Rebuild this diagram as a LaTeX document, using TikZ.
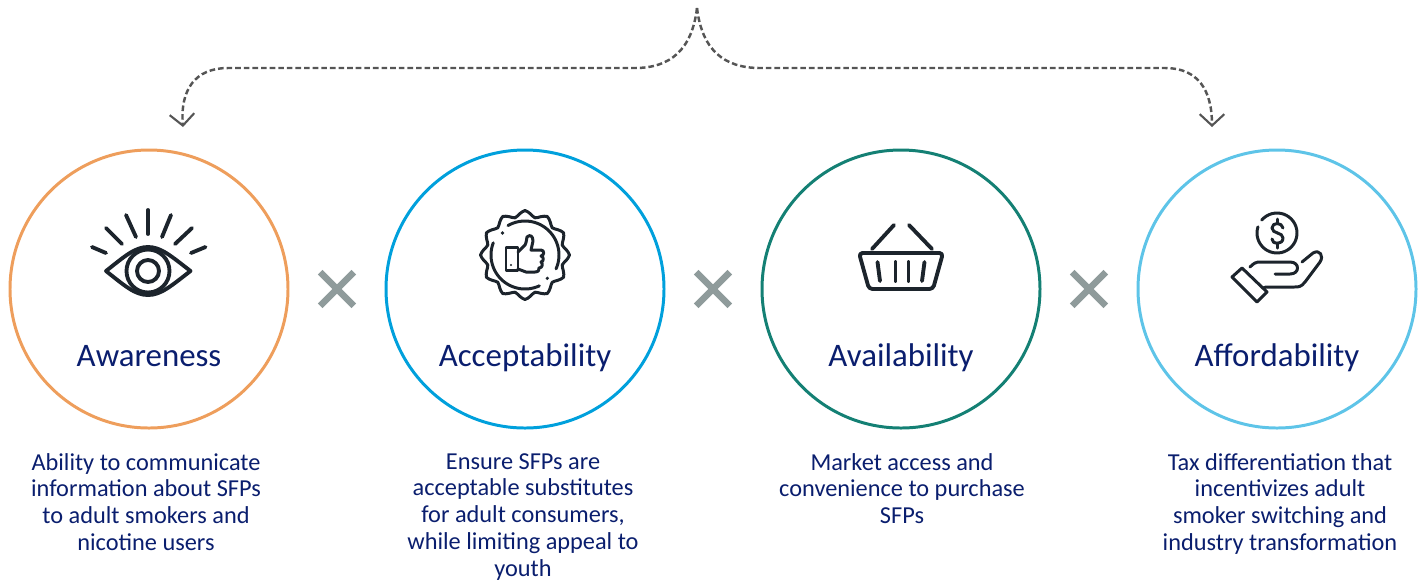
\documentclass[tikz,border=0pt]{standalone}
\usepackage{fontspec}
\setmainfont{Carlito}
\usetikzlibrary{shapes,arrows.meta,positioning}
\definecolor{titlenavy}{RGB}{10,30,110}
\definecolor{iconink}{RGB}{28,36,44}
\definecolor{crossgray}{RGB}{143,155,155}
\definecolor{linkgray}{RGB}{85,85,85}
\definecolor{awareorange}{RGB}{238,158,92}
\definecolor{acceptblue}{RGB}{0,160,220}
\definecolor{availgreen}{RGB}{20,128,116}
\definecolor{affordsky}{RGB}{94,196,232}
\tikzset{
  ring/.style={draw, circle, line width=1.7pt, minimum size=278*0.02cm, inner sep=0pt},
  heading/.style={font=\fontsize{18.7}{22}\selectfont, text=titlenavy, anchor=base},
  blurb/.style={font=\fontsize{13.85}{15.3}\selectfont, text=titlenavy, align=center, anchor=north},
  times/.style={cross out, draw=crossgray, line width=3.8pt, minimum size=27*0.02cm, inner sep=0pt},
  link/.style={draw=linkgray, line width=1.4pt, dash pattern=on 3.2pt off 1.7pt, -{Straight Barb[length=6.5pt, width=14pt, line width=1.2pt]}},
  icon/.style={draw=iconink, line width=2.2pt, line cap=round, line join=round},
  iconthin/.style={draw=iconink, line width=1.7pt, line cap=round, line join=round}
}
\begin{document}
\begin{tikzpicture}[x=0.02cm, y=-0.02cm]
  \useasboundingbox (0,0) rectangle (1427,583);
  % circles and separators
  \node[ring, draw=awareorange] (awareness) at (149,289) {};
  \node[ring, draw=acceptblue] (acceptability) at (525,289) {};
  \node[ring, draw=availgreen] (availability) at (901,289) {};
  \node[ring, draw=affordsky] (affordability) at (1277,289) {};
  \node[times] (timesa) at (337,289) {};
  \node[times] (timesb) at (713,289) {};
  \node[times] (timesc) at (1089,289) {};
  % titles
  \node[heading] (awarenesstitle) at (149,366) {Awareness};
  \node[heading] (acceptabilitytitle) at (525,366) {Acceptability};
  \node[heading] (availabilitytitle) at (901,366) {Availability};
  \node[heading] (affordabilitytitle) at (1277,366) {Affordability};
  % descriptions
  \node[blurb] (awarenesstext) at (146,447) {Ability to communicate\\information about SFPs\\to adult smokers and\\nicotine users};
  \node[blurb] (acceptabilitytext) at (523,447) {Ensure SFPs are\\acceptable substitutes\\for adult consumers,\\while limiting appeal to\\youth};
  \node[blurb] (availabilitytext) at (902,447) {Market access and\\convenience to purchase\\SFPs};
  \node[blurb] (affordabilitytext) at (1280,447) {Tax differentiation that\\incentivizes adult\\smoker switching and\\industry transformation};
  % dashed links
  \coordinate (top) at (697,8);
  \coordinate (leftend) at (183,127);
  \coordinate (rightend) at (1212,127);
  \draw[link] (top) .. controls (692,50) and (670,68) .. (635,68) -- (228,68) .. controls (195,68) and (180,90) .. (leftend);
  \draw[link] (top) .. controls (702,50) and (724,68) .. (760,68) -- (1165,68) .. controls (1198,68) and (1212,90) .. (rightend);
  % eye
  \draw[icon] (106,271) .. controls (125,256) and (135,247) .. (148,247) .. controls (161,247) and (171,256) .. (190.5,271) .. controls (171,286) and (161,295) .. (148,295) .. controls (135,295) and (125,286) .. cycle;
  \draw[icon] (148,271) circle (21.5);
  \draw[icon] (148,271) circle (11);
  \draw[icon] (148,210) -- (148,234);
  \draw[icon] (126,215) -- (136,237);
  \draw[icon] (106,228) -- (122,244);
  \draw[icon] (92,247) -- (106,253);
  \draw[icon] (171,215) -- (162,237);
  \draw[icon] (192,228) -- (175,244);
  \draw[icon] (205.5,247) -- (191,253);
  % badge
  \draw[iconthin] plot[smooth cycle, domain=0:352.5, samples=48] ({525+(41.5+3*cos(12*\x))*cos(\x)}, {255+(41.5+3*cos(12*\x))*sin(\x)});
  \draw[iconthin] plot[smooth, domain=-120:24, samples=30] ({525+34*cos(\x)}, {255+34*sin(\x)});
  \draw[iconthin] plot[smooth, domain=65:201, samples=30] ({525+34*cos(\x)}, {255+34*sin(\x)});
  \fill[iconink] (502.5,233) circle (1.8);
  \fill[iconink] (547.3,278.3) circle (1.8);
  \fill[iconink] (511,265) circle (1.2);
  \draw[iconthin] (506,247) rectangle (518,270);
  \draw[iconthin] (518,252) -- (525,245) .. controls (527,241) and (526,240) .. (527,237) .. controls (530,234) and (533,236) .. (533,241) -- (531,250) -- (541,250) .. controls (545,250) and (544,256) .. (541,256) .. controls (544,256) and (544,262) .. (541,262) .. controls (543,263) and (543,268) .. (539,268) .. controls (540,270) and (538,272) .. (535,272) -- (526,272) -- (518,269);
  % basket
  \draw[icon] (872,249) -- (894,225);
  \draw[icon] (932,249) -- (909,225);
  \draw[icon, rounded corners=2pt] (859,253) -- (943,253) -- (933,289) -- (869,289) -- cycle;
  \draw[icon] (877.5,262) -- (880,281);
  \draw[icon] (895.5,262) -- (895.5,281);
  \draw[icon] (908.5,262) -- (908.5,281);
  \draw[icon] (924.5,262) -- (922,281);
  % hand and coin
  \draw[iconthin] plot[smooth, domain=-140:198, samples=40] ({1277+20*cos(\x)}, {233+20*sin(\x)});
  \draw[iconthin] (1277,219) -- (1277,223);
  \draw[iconthin] (1277,243) -- (1277,248);
  \draw[iconthin] (1283,228) .. controls (1282,222) and (1272,222) .. (1272,228) .. controls (1272,234) and (1283,232) .. (1283,238) .. controls (1283,245) and (1272,245) .. (1272,239);
  \draw[iconthin] (1242,268) -- (1232,277) -- (1257,302) -- (1267,292) -- cycle;
  \draw[iconthin] (1250,267) .. controls (1254,263) and (1256,262) .. (1260,262) -- (1290,262) .. controls (1300,262) and (1300,274) .. (1290,274) -- (1275,274);
  \draw[iconthin] (1302,262) -- (1313,253) .. controls (1320,249) and (1324,256) .. (1320,262) -- (1305,282) .. controls (1301,287) and (1299,287) .. (1294,287) -- (1266,287) -- (1263,288);
\end{tikzpicture}
\end{document}
